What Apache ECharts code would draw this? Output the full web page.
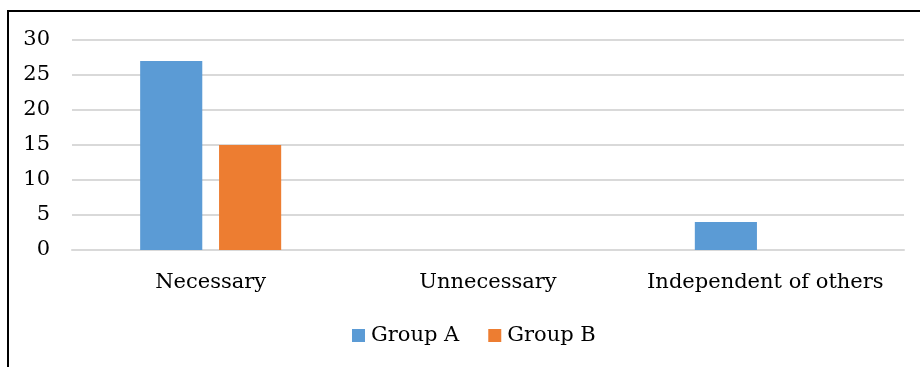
<!DOCTYPE html>
<html>
<head>
<meta charset="utf-8">
<script src="https://cdn.jsdelivr.net/npm/echarts@6/dist/echarts.min.js"></script>
<style>
  html, body { margin: 0; padding: 0; background: #fff; }
  #chart { width: 920px; height: 367px; }
</style>
</head>
<body>
<div id="chart"></div>
<script>
// Responses per category for each group
const categories = ['Necessary', 'Unnecessary', 'Independent of others'];
const groupA = [27, 0, 4];
const groupB = [15, 0, 0];
const yTicks = { min: 0, max: 30, interval: 5 };

const FONT = 'DejaVu Serif';
const chart = echarts.init(document.getElementById('chart'));

chart.setOption({
  animation: false,
  textStyle: { fontFamily: FONT },
  graphic: [{
    type: 'rect',
    shape: { x: 8, y: 11, width: 940, height: 400 },
    style: { fill: 'none', stroke: '#000', lineWidth: 2 },
    silent: true
  }],
  grid: { left: 72, right: 16, top: 40, bottom: 117 },
  legend: {
    top: 320,
    left: 347,
    padding: 5,
    itemWidth: 13,
    itemHeight: 13,
    itemGap: 29,
    icon: 'rect',
    textStyle: { fontFamily: FONT, fontSize: 21, color: '#000', padding: [0, 0, 0, 1] },
    data: ['Group A', 'Group B']
  },
  xAxis: {
    type: 'category',
    data: categories,
    axisLine: { show: true, lineStyle: { color: '#d9d9d9', width: 2 } },
    axisTick: { show: false },
    axisLabel: { color: '#000', fontSize: 21, fontFamily: FONT, margin: 22, interval: 0 }
  },
  yAxis: {
    type: 'value',
    min: yTicks.min,
    max: yTicks.max,
    interval: yTicks.interval,
    axisLine: { show: false },
    axisTick: { show: false },
    axisLabel: { color: '#000', fontSize: 21, fontFamily: FONT, margin: 22 },
    splitLine: { lineStyle: { color: '#d9d9d9', width: 2 } }
  },
  series: [
    {
      name: 'Group A',
      type: 'bar',
      data: groupA,
      barWidth: '22.4%',
      barGap: '27%',
      itemStyle: { color: '#5B9BD5' }
    },
    {
      name: 'Group B',
      type: 'bar',
      data: groupB,
      barWidth: '22.4%',
      itemStyle: { color: '#ED7D31' }
    }
  ]
});
</script>
</body>
</html>
